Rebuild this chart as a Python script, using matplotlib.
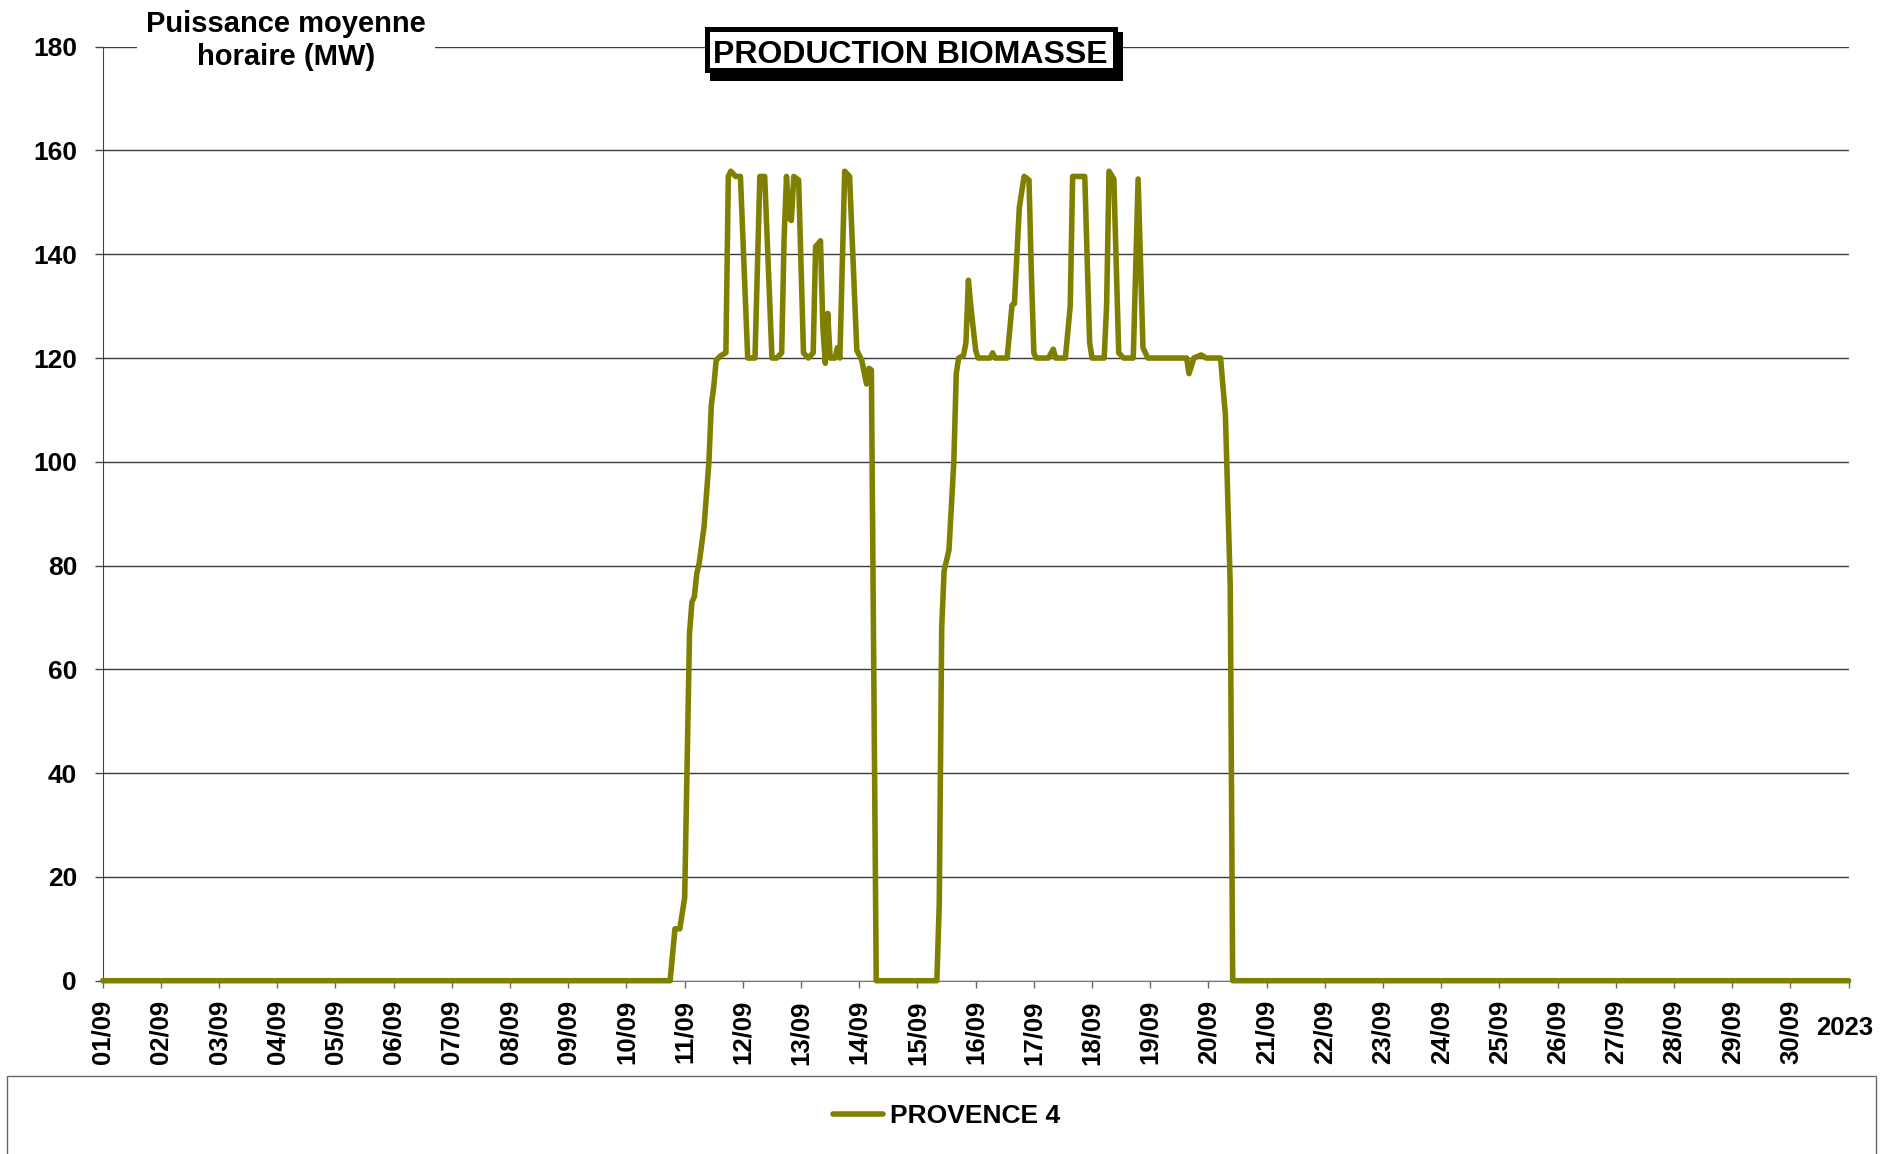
import matplotlib
matplotlib.use('Agg')
import matplotlib.pyplot as plt
from matplotlib.patches import Rectangle

plt.rcParams['font.family'] = ['Liberation Sans', 'DejaVu Sans']
plt.rcParams['font.weight'] = 'bold'

# Hours since 01/09/2023 00:00 and hourly mean power (MW), vertices.
hours = [
    0, 234, 236, 238, 240, 242, 243, 244, 245, 246, 248, 250, 251, 252, 253,
    255, 257, 258, 259, 261, 263, 266, 269, 271, 273, 276, 278, 280, 281, 282,
    283, 284, 285, 287, 289, 291, 293, 294, 295, 296, 297, 298, 299, 300, 302,
    303, 304, 306, 308, 311, 313, 315, 316, 317, 319,
    344, 345, 346, 347, 349, 351, 352, 353, 355, 356, 357, 358, 360, 361, 366, 367,
    368, 373, 375, 376, 378, 380, 382, 383, 384, 385, 390, 392, 393, 397, 399,
    400, 405, 407, 408, 413, 414, 415, 417, 419, 421, 425, 427, 429, 431, 447,
    448, 450, 453, 455, 461, 463, 465, 466, 720,
]
power_mw = [
    0, 0, 10, 10, 16, 67, 73, 74, 78.5, 80.5, 87.5, 100, 111, 114.5, 119.6,
    120.5, 121, 155, 156, 155, 155, 120, 120, 155, 155, 120, 120, 121, 143, 155,
    147, 146.5, 155, 154.3, 121, 120, 121, 141.5, 142, 142.6, 126, 119, 128.6, 120, 120,
    122, 120, 156, 155, 121.5, 119.6, 115, 118, 117.7, 0,
    0, 15, 68, 79, 83, 100, 117, 120, 120.5, 123, 135, 130, 121.5, 120, 120, 121,
    120, 120, 130.2, 130.5, 149, 155, 154.3, 136, 121, 120, 120, 121.7, 120, 120, 130,
    155, 155, 123, 120, 120, 130, 156, 154.5, 121, 120, 120, 154.5, 122, 120, 120,
    117, 120, 120.6, 120, 120, 109, 76, 0, 0,
]
series_name = 'PROVENCE 4'
day_labels = ['%02d/09' % d for d in range(1, 31)]
y_ticks = [0, 20, 40, 60, 80, 100, 120, 140, 160, 180]
title = 'PRODUCTION BIOMASSE'
ylabel_lines = ['Puissance moyenne', 'horaire (MW)']
year_label = '2023'

OLIVE = '#808000'
W, H = 1897, 1154


def fx(px):
    return px / W


def fy(py):
    return 1 - py / H


fig = plt.figure(figsize=(W / 100, H / 100), dpi=100)
ax = fig.add_axes([fx(102.7), fy(980.7), fx(1848.6) - fx(102.7), fy(46.7) - fy(980.7)])

ax.plot(hours, power_mw, color=OLIVE, lw=4.0, solid_joinstyle='round',
        solid_capstyle='round', clip_on=False, zorder=3, label=series_name)

ax.set_xlim(0, 720)
ax.set_ylim(0, 180)
ax.set_yticks(y_ticks)
ax.set_xticks(range(0, 721, 24))
ax.set_xticklabels(day_labels + [''], rotation=90)
ax.tick_params(axis='x', length=5, width=1, color='#666666', pad=9, labelsize=18.5)
ax.tick_params(axis='y', length=5.5, width=1, color='#444444', pad=13, labelsize=19)
ax.grid(axis='y', color='#3a3a3a', lw=1)
ax.set_axisbelow(True)
for s in ['top', 'right']:
    ax.spines[s].set_visible(False)
ax.spines['left'].set_color('#444444')
ax.spines['bottom'].set_color('#777777')

# y axis title sitting on the top gridline
fig.add_artist(Rectangle((fx(136.7), fy(54)), fx(435) - fx(136.7), fy(40) - fy(54),
                         transform=fig.transFigure, facecolor='white', edgecolor='none', zorder=2))
fig.text(fx(286), fy(31.7), ylabel_lines[0], ha='center', va='baseline', fontsize=21)
fig.text(fx(286), fy(65), ylabel_lines[1], ha='center', va='baseline', fontsize=21)

# title box with shadow
fig.add_artist(Rectangle((fx(710), fy(80.5)), fx(1123) - fx(710), fy(32) - fy(80.5),
                         transform=fig.transFigure, facecolor='black', edgecolor='none', zorder=2))
fig.add_artist(Rectangle((fx(706.5), fy(69.5)), fx(1114.5) - fx(706.5), fy(29.5) - fy(69.5),
                         transform=fig.transFigure, facecolor='white', edgecolor='black',
                         lw=3.6, zorder=2.5))
fig.text(fx(910.5), fy(63.3), title, ha='center', va='baseline', fontsize=23)

fig.text(fx(1845), fy(1035), year_label, ha='center', va='baseline', fontsize=18.5)

# legend frame
fig.add_artist(Rectangle((fx(6.5), fy(1200)), fx(1876) - fx(6.5), fy(1075.5) - fy(1200),
                         transform=fig.transFigure, facecolor='none', edgecolor='#666666',
                         lw=1, zorder=2))
fig.legend(loc='center left', bbox_to_anchor=(fx(832.5), fy(1116)), frameon=False,
           fontsize=19, handlelength=1.9, handletextpad=0.28, borderpad=0, borderaxespad=0)

fig.savefig('out.png', dpi=100)
